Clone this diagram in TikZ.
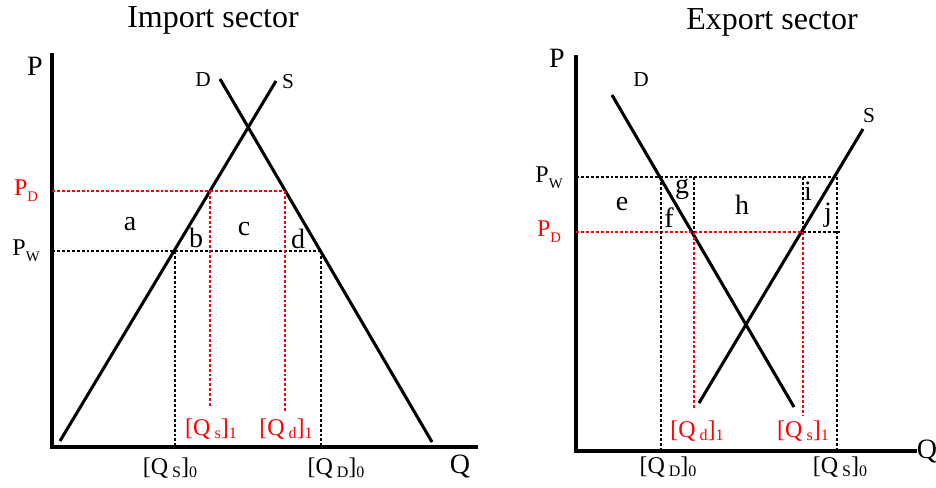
\documentclass[tikz,border=0pt]{standalone}
\usepackage{fontspec}
\setmainfont{Liberation Serif}
\usepackage{xcolor}
\usetikzlibrary{positioning}

\newcommand{\lowsub}[1]{\raisebox{-4.5pt}{\fontsize{11}{11}\selectfont #1}}
\newcommand{\qsub}[1]{\raisebox{-2.5pt}{\fontsize{12}{12}\selectfont #1}}

\begin{document}
\begin{tikzpicture}[
    x=0.75pt, y=-0.75pt,
    every node/.style={font=\fontsize{16}{18}\selectfont, inner sep=0pt},
    title/.style={font=\fontsize{24}{26}\selectfont},
    axlabel/.style={font=\fontsize{21}{23}\selectfont},
    area/.style={font=\fontsize{21}{23}\selectfont},
    price/.style={font=\fontsize{18}{20}\selectfont},
    qlabel/.style={font=\fontsize{18}{20}\selectfont},
    axis/.style={line width=3pt},
    curve/.style={line width=2.3pt},
    guide/.style={line width=1.8pt, dash pattern=on 2.2pt off 1.5pt},
    redguide/.style={guide, draw=red}
]
\useasboundingbox (0,0) rectangle (936,487);

% Import sector
\node[title] (imptitle) at (213,20) {Import sector};
\coordinate (top1) at (52,53);
\coordinate (o1) at (52,447);
\coordinate (end1) at (478,447);
\draw[axis] (top1) -- (o1) -- (end1);
\node[axlabel] (p1) at (35,66) {P};
\node[axlabel] (q1) at (460,466) {Q};

\coordinate (d1a) at (220,79);
\coordinate (d1b) at (432,442);
\coordinate (s1a) at (276,81);
\coordinate (s1b) at (60,441);
\draw[curve] (d1a) -- (d1b);
\draw[curve] (s1a) -- (s1b);
\node (dlab1) at (203,80) {D};
\node (slab1) at (288,82) {S};

\coordinate (pd1) at (52,191);
\coordinate (pw1) at (52,251);
\coordinate (sd1) at (210,191);
\coordinate (dd1) at (285,191);
\coordinate (sw1) at (175,251);
\coordinate (dw1) at (321,251);
\coordinate (qs1end) at (210,407);
\coordinate (qd1end) at (285,412);
\draw[redguide] (pd1) -- (dd1);
\draw[guide] (pw1) -- (dw1);
\draw[guide] (sw1) -- (sw1 |- o1);
\draw[guide] (dw1) -- (dw1 |- o1);
\draw[redguide] (sd1) -- (qs1end);
\draw[redguide] (dd1) -- (qd1end);

\node[price, text=red] (pdlab1) at (26,191) {P\lowsub{D}};
\node[price] (pwlab1) at (26,251) {P\lowsub{W}};
\node[area] (a) at (130,224) {a};
\node[area] (b) at (196,238) {b};
\node[area] (c) at (244,229) {c};
\node[area] (d) at (298,239) {d};

\node[qlabel, text=red] (qs1) at (211,429) {[Q\,\qsub{s}]\qsub{1}};
\node[qlabel, text=red] (qd1) at (286,429) {[Q\,\qsub{d}]\qsub{1}};
\node[qlabel] (qs0) at (170,468) {[Q\,\qsub{S}]\qsub{0}};
\node[qlabel] (qd0) at (336,468) {[Q\,\qsub{D}]\qsub{0}};

% Export sector
\node[title] (exptitle) at (772,22) {Export sector};
\coordinate (top2) at (576,55);
\coordinate (o2) at (576,451);
\coordinate (end2) at (917,451);
\draw[axis] (top2) -- (o2) -- (end2);
\node[axlabel] (p2) at (557,58) {P};
\node[axlabel] (q2) at (927,451) {Q};

\coordinate (d2a) at (612,95);
\coordinate (d2b) at (794,407);
\coordinate (s2a) at (863,129);
\coordinate (s2b) at (699,403);
\draw[curve] (d2a) -- (d2b);
\draw[curve] (s2a) -- (s2b);
\node (dlab2) at (641,80) {D};
\node (slab2) at (869,116) {S};

\coordinate (pw2) at (576,177);
\coordinate (pd2) at (576,232);
\coordinate (dw2) at (661,177);
\coordinate (sw2) at (837,177);
\coordinate (dd2) at (694,232);
\coordinate (sd2) at (803,232);
\coordinate (jr2) at (842,232);
\coordinate (qd2end) at (694,409);
\coordinate (qs2end) at (803,415);
\draw[guide] (pw2) -- (sw2);
\draw[redguide] (pd2) -- (sd2);
\draw[guide] (sd2) -- (jr2);
\draw[guide] (dw2) -- (dw2 |- o2);
\draw[guide] (sw2) -- (sw2 |- o2);
\draw[guide] (dd2 |- pw2) -- (dd2);
\draw[guide] (sd2 |- pw2) -- (sd2);
\draw[redguide] (dd2) -- (qd2end);
\draw[redguide] (sd2) -- (qs2end);

\node[price] (pwlab2) at (549,178) {P\lowsub{W}};
\node[price, text=red] (pdlab2) at (549,232) {P\lowsub{D}};
\node[area] (e) at (622,204) {e};
\node[area] (g) at (682,189) {g};
\node[area] (f) at (669,218) {f};
\node[area] (h) at (742,205) {h};
\node[area] (i) at (808,191) {i};
\node[area] (j) at (828,215) {j};

\node[qlabel, text=red] (qd1r) at (697,431) {[Q\,\qsub{d}]\qsub{1}};
\node[qlabel, text=red] (qs1r) at (803,431) {[Q\,\qsub{s}]\qsub{1}};
\node[qlabel] (qd0r) at (668,467) {[Q\,\qsub{D}]\qsub{0}};
\node[qlabel] (qs0r) at (840,467) {[Q\,\qsub{S}]\qsub{0}};

\end{tikzpicture}
\end{document}
